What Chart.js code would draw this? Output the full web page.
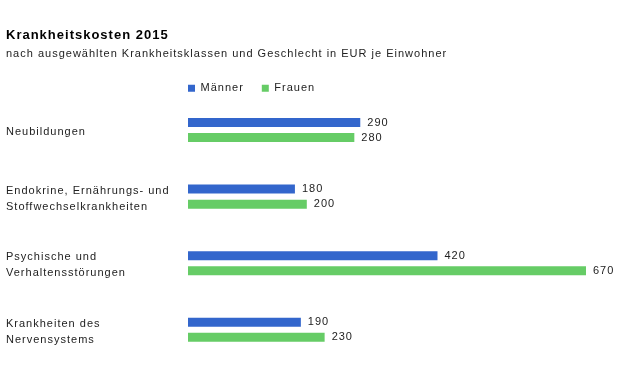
<!DOCTYPE html>
<html><head><meta charset="utf-8">
<script src="https://cdn.jsdelivr.net/npm/chart.js@4/dist/chart.umd.min.js"></script>
<style>html,body{margin:0;padding:0;background:#fff}#wrap{width:621px;height:383px;position:relative}</style>
</head><body><div id="wrap"><canvas id="c"></canvas></div>
<script>
const categories = [
  ["Neubildungen"],
  ["Endokrine, Ernährungs- und", "Stoffwechselkrankheiten"],
  ["Psychische und", "Verhaltensstörungen"],
  ["Krankheiten des", "Nervensystems"]
];
const maenner = [290, 180, 420, 190];
const frauen = [280, 200, 670, 230];
const seriesNames = ["Männer", "Frauen"];
const FONT = "'Liberation Sans', Arial, sans-serif";

const spacing = {
  id: 'spacing',
  beforeLayout(chart) { chart.ctx.letterSpacing = '1px'; },
  beforeDraw(chart) {
    chart.ctx.letterSpacing = '1px';
    const items = chart.scales.y.getLabelItems();
    items.forEach(it => {
      if (!it._shifted && it.options && it.options.translation) {
        it.options.translation[1] += 2;
        it._shifted = true;
      }
    });
  }
};
const valueLabels = {
  id: 'valueLabels',
  afterDatasetsDraw(chart) {
    const ctx = chart.ctx;
    ctx.save();
    ctx.letterSpacing = '1px';
    ctx.font = "11px " + FONT;
    ctx.fillStyle = "#222";
    ctx.textAlign = "left";
    ctx.textBaseline = "middle";
    chart.data.datasets.forEach((ds, i) => {
      chart.getDatasetMeta(i).data.forEach((el, j) => {
        ctx.fillText(String(ds.data[j]), el.x + 7, el.y);
      });
    });
    ctx.restore();
  }
};
const shiftLegend = {
  id: 'shiftLegend',
  afterLayout(chart) {
    const lg = chart.legend;
    const dx = chart.chartArea.left - 18 - lg.left;
    lg.left += dx; lg.right += dx;
    if (lg.legendHitBoxes) lg.legendHitBoxes.forEach(b => b.left += dx);
  }
};

new Chart(document.getElementById('c'), {
  type: 'bar',
  data: {
    labels: categories,
    datasets: [
      { label: seriesNames[0], data: maenner, backgroundColor: '#3366cc' },
      { label: seriesNames[1], data: frauen, backgroundColor: '#66cc66' }
    ]
  },
  options: {
    indexAxis: 'y',
    responsive: true,
    maintainAspectRatio: false,
    animation: false,
    categoryPercentage: 0.451,
    barPercentage: 0.6,
    layout: { padding: { left: 6, right: 35, top: 0, bottom: 20 } },
    scales: {
      x: { display: false, min: 0, max: 670 },
      y: {
        grid: { display: false },
        border: { display: false },
        ticks: { crossAlign: 'far', color: '#222', font: { family: FONT, size: 11, lineHeight: 1.45 }, padding: 0 },
        afterFit(scale) { scale.width = 182; }
      }
    },
    plugins: {
      title: { display: true, text: 'Krankheitskosten 2015', align: 'start', color: '#000',
        font: { family: FONT, size: 13, weight: 'bold', lineHeight: 1.2 }, padding: { top: 28, bottom: 2 } },
      subtitle: { display: true, text: 'nach ausgewählten Krankheitsklassen und Geschlecht in EUR je Einwohner', align: 'start', color: '#222',
        font: { family: FONT, size: 11, lineHeight: 1.2 }, padding: { top: 2, bottom: 4 } },
      legend: { display: true, align: 'start', maxHeight: 32,
        labels: { boxWidth: 7, boxHeight: 7, color: '#222', padding: 18, font: { family: FONT, size: 11 } } },
      tooltip: { enabled: false }
    }
  },
  plugins: [spacing, valueLabels, shiftLegend]
});
</script></body></html>
